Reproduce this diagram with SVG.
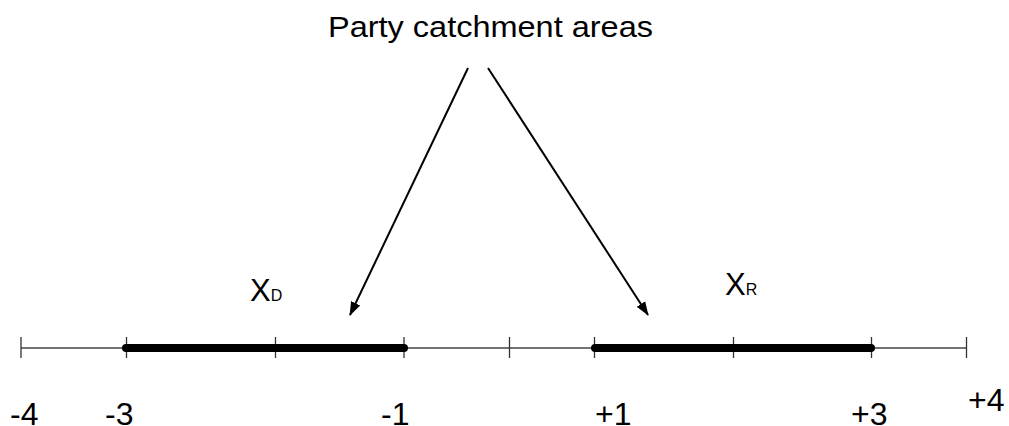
<svg xmlns="http://www.w3.org/2000/svg" width="1009" height="426" viewBox="0 0 1009 426">
<style>
text{font-family:"Liberation Sans",Arial,sans-serif;fill:#000}
.tick{stroke:#333;stroke-width:1.3}
.axis{stroke:#444;stroke-width:1.3}
.thick{stroke:#000;stroke-width:8;stroke-linecap:round}
.arr{stroke:#000;stroke-width:2;fill:none;marker-end:url(#ah)}
.num{font-size:32px}
</style>
<defs>
<marker id="ah" markerWidth="14" markerHeight="12" refX="13" refY="5" orient="auto" markerUnits="userSpaceOnUse" viewBox="0 0 14 10">
<path d="M0,0 L14,5 L0,10 Z" fill="#000"/>
</marker>
</defs>
<rect width="1009" height="426" fill="#fff"/>
<g id="title"><text x="328" y="36.5" font-size="30" textLength="325" lengthAdjust="spacingAndGlyphs">Party catchment areas</text></g>
<g id="axis">
<line class="axis" x1="21" y1="348" x2="967" y2="348"/>
<line class="tick" x1="21" y1="337" x2="21" y2="358"/>
<line class="tick" x1="126.5" y1="337" x2="126.5" y2="358"/>
<line class="tick" x1="275.5" y1="337" x2="275.5" y2="358"/>
<line class="tick" x1="404" y1="337" x2="404" y2="358"/>
<line class="tick" x1="509.5" y1="337" x2="509.5" y2="358"/>
<line class="tick" x1="594.5" y1="337" x2="594.5" y2="358"/>
<line class="tick" x1="733.5" y1="337" x2="733.5" y2="358"/>
<line class="tick" x1="871.5" y1="337" x2="871.5" y2="358"/>
<line class="tick" x1="966.5" y1="337" x2="966.5" y2="358"/>
</g>
<g id="area-d"><line class="thick" x1="126" y1="348" x2="404" y2="348"/></g>
<g id="area-r"><line class="thick" x1="595" y1="348" x2="871" y2="348"/></g>
<g id="labels">
<text class="num" x="10" y="425">-4</text>
<text class="num" x="105" y="425">-3</text>
<text class="num" x="381" y="425">-1</text>
<text class="num" x="595" y="425">+1</text>
<text class="num" x="851" y="425">+3</text>
<text class="num" x="968" y="411">+4</text>
</g>
<g id="xd"><text x="250" y="300.5" font-size="31">X<tspan font-size="16">D</tspan></text></g>
<g id="xr"><text x="725" y="295" font-size="31">X<tspan font-size="16">R</tspan></text></g>
<g id="connectors">
<line class="arr" x1="468" y1="68" x2="350" y2="315"/>
<line class="arr" x1="488" y1="68" x2="648" y2="315"/>
</g>
</svg>
